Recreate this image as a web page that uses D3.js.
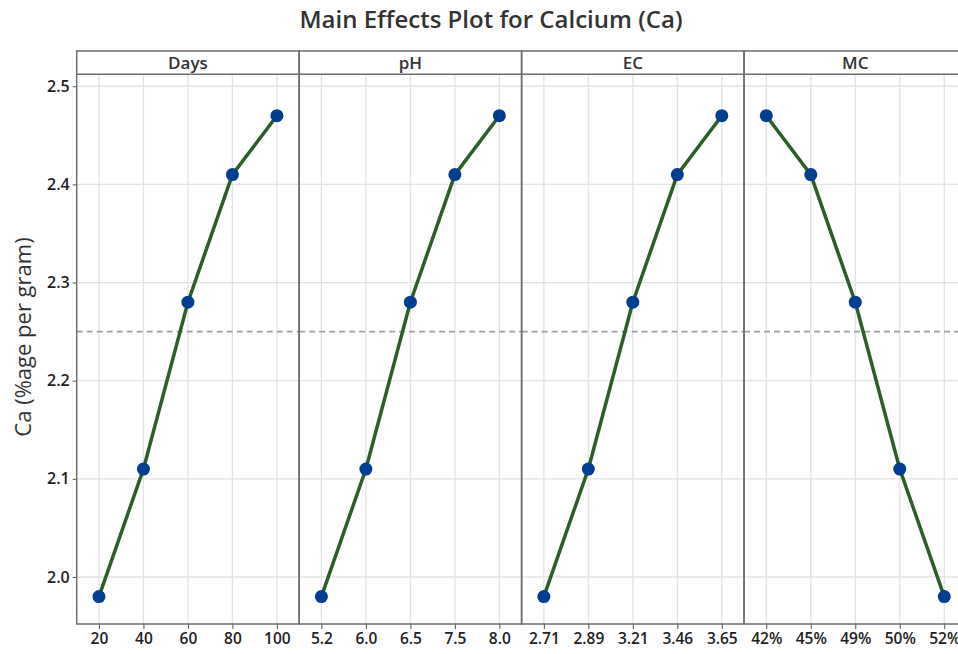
<!DOCTYPE html>
<html>
<head>
<meta charset="utf-8">
<script src="https://cdn.jsdelivr.net/npm/d3@7"></script>
<style>
  body { margin: 0; background: #fff; }
  svg { display: block; font-family: "Open Sans", "Noto Sans", sans-serif; }
</style>
</head>
<body>
<div id="chart"></div>
<script>
// factors shown as panels, left to right
var factors = ["Days", "pH", "EC", "MC"];

// level labels of each factor
var daysLevels = ["20", "40", "60", "80", "100"];
var phLevels = ["5.2", "6.0", "6.5", "7.5", "8.0"];
var ecLevels = ["2.71", "2.89", "3.21", "3.46", "3.65"];
var mcLevels = ["42%", "45%", "49%", "50%", "52%"];

// mean Ca at each level
var daysMeans = [1.98, 2.11, 2.28, 2.41, 2.47];
var phMeans = [1.98, 2.11, 2.28, 2.41, 2.47];
var ecMeans = [1.98, 2.11, 2.28, 2.41, 2.47];
var mcMeans = [2.47, 2.41, 2.28, 2.11, 1.98];

var grandMean = 2.25;
var yTicks = [2.0, 2.1, 2.2, 2.3, 2.4, 2.5];

var panels = [
  {name: factors[0], levels: daysLevels, means: daysMeans},
  {name: factors[1], levels: phLevels, means: phMeans},
  {name: factors[2], levels: ecLevels, means: ecMeans},
  {name: factors[3], levels: mcLevels, means: mcMeans}
];

var W = 958, H = 654;
var left = 76.7, headTop = 51, plotTop = 74.3, plotBottom = 624;
var panelW = 222.45;

var svg = d3.select("#chart").append("svg")
    .attr("width", W)
    .attr("height", H);

var y = d3.scaleLinear()
    .domain([1.9521, 2.5122])
    .range([plotBottom, plotTop]);

// title
svg.append("text")
    .attr("x", 491)
    .attr("y", 28)
    .attr("text-anchor", "middle")
    .style("font-size", "24px")
    .style("font-weight", 600)
    .style("fill", "#333")
    .text("Main Effects Plot for Calcium (Ca)");

// y axis label
svg.append("text")
    .attr("transform", "translate(23,337) rotate(-90)")
    .attr("text-anchor", "middle")
    .attr("dy", "0.35em")
    .style("font-size", "22px")
    .style("fill", "#333")
    .text("Ca (%age per gram)");

var totalRight = left + panelW * panels.length;

// horizontal grid lines
svg.append("g").selectAll("line")
    .data(yTicks)
    .enter().append("line")
    .attr("x1", left).attr("x2", totalRight)
    .attr("y1", function(d) { return y(d); })
    .attr("y2", function(d) { return y(d); })
    .attr("stroke", "#e3e3e3")
    .attr("stroke-width", 1.3);

// y axis
var yAxis = d3.axisLeft(y)
    .tickValues(yTicks)
    .tickFormat(d3.format(".1f"))
    .tickSize(4)
    .tickPadding(3);

var gy = svg.append("g")
    .attr("transform", "translate(" + left + ",0)")
    .call(yAxis);
gy.select(".domain").remove();
gy.selectAll(".tick line").attr("stroke", "#555");
gy.selectAll(".tick text")
    .style("font-size", "16px")
    .style("font-weight", 600)
    .style("fill", "#222")
    .style("font-family", "'Open Sans', sans-serif");

var line = d3.line();

panels.forEach(function(p, i) {
  var x0 = left + panelW * i;
  var x = d3.scalePoint()
      .domain(p.levels)
      .range([x0, x0 + panelW])
      .padding(0.5);

  var g = svg.append("g");

  // vertical grid lines
  g.selectAll("line.vgrid")
      .data(p.levels)
      .enter().append("line")
      .attr("class", "vgrid")
      .attr("x1", function(d) { return x(d); })
      .attr("x2", function(d) { return x(d); })
      .attr("y1", plotTop).attr("y2", plotBottom)
      .attr("stroke", "#e3e3e3")
      .attr("stroke-width", 1.3);

  // reference line at grand mean
  g.append("line")
      .attr("x1", x0).attr("x2", x0 + panelW)
      .attr("y1", y(grandMean)).attr("y2", y(grandMean))
      .attr("stroke", "#a0a0a0")
      .attr("stroke-width", 1.6)
      .attr("stroke-dasharray", "6,4");

  // x axis
  var xAxis = d3.axisBottom(x).tickSize(5).tickPadding(4);
  var gx = g.append("g")
      .attr("transform", "translate(0," + plotBottom + ")")
      .call(xAxis);
  gx.select(".domain").remove();
  gx.selectAll(".tick line").attr("stroke", "#555");
  gx.selectAll(".tick text")
      .style("font-size", "15.5px")
      .style("font-weight", 600)
      .style("fill", "#222")
      .style("font-family", "'Open Sans', sans-serif");

  // effect line
  var pts = p.levels.map(function(l, k) { return [x(l), y(p.means[k])]; });
  g.append("path")
      .attr("d", line(pts))
      .attr("fill", "none")
      .attr("stroke", "#2c5e2a")
      .attr("stroke-width", 3.5);

  g.selectAll("circle")
      .data(p.means)
      .enter().append("circle")
      .attr("cx", function(d, k) { return x(p.levels[k]); })
      .attr("cy", function(d) { return y(d); })
      .attr("r", 6.5)
      .attr("fill", "#023e8f");

  // panel frame and header
  g.append("rect")
      .attr("x", x0).attr("y", headTop)
      .attr("width", panelW).attr("height", plotBottom - headTop)
      .attr("fill", "none")
      .attr("stroke", "#6e6e6e")
      .attr("stroke-width", 1.5);
  g.append("line")
      .attr("x1", x0).attr("x2", x0 + panelW)
      .attr("y1", plotTop).attr("y2", plotTop)
      .attr("stroke", "#6e6e6e")
      .attr("stroke-width", 1.5);
  g.append("text")
      .attr("x", x0 + panelW / 2)
      .attr("y", (headTop + plotTop) / 2)
      .attr("dy", "0.36em")
      .attr("text-anchor", "middle")
      .style("font-size", "17px")
      .style("font-weight", 600)
      .style("fill", "#333")
      .text(p.name);
});
</script>
</body>
</html>
